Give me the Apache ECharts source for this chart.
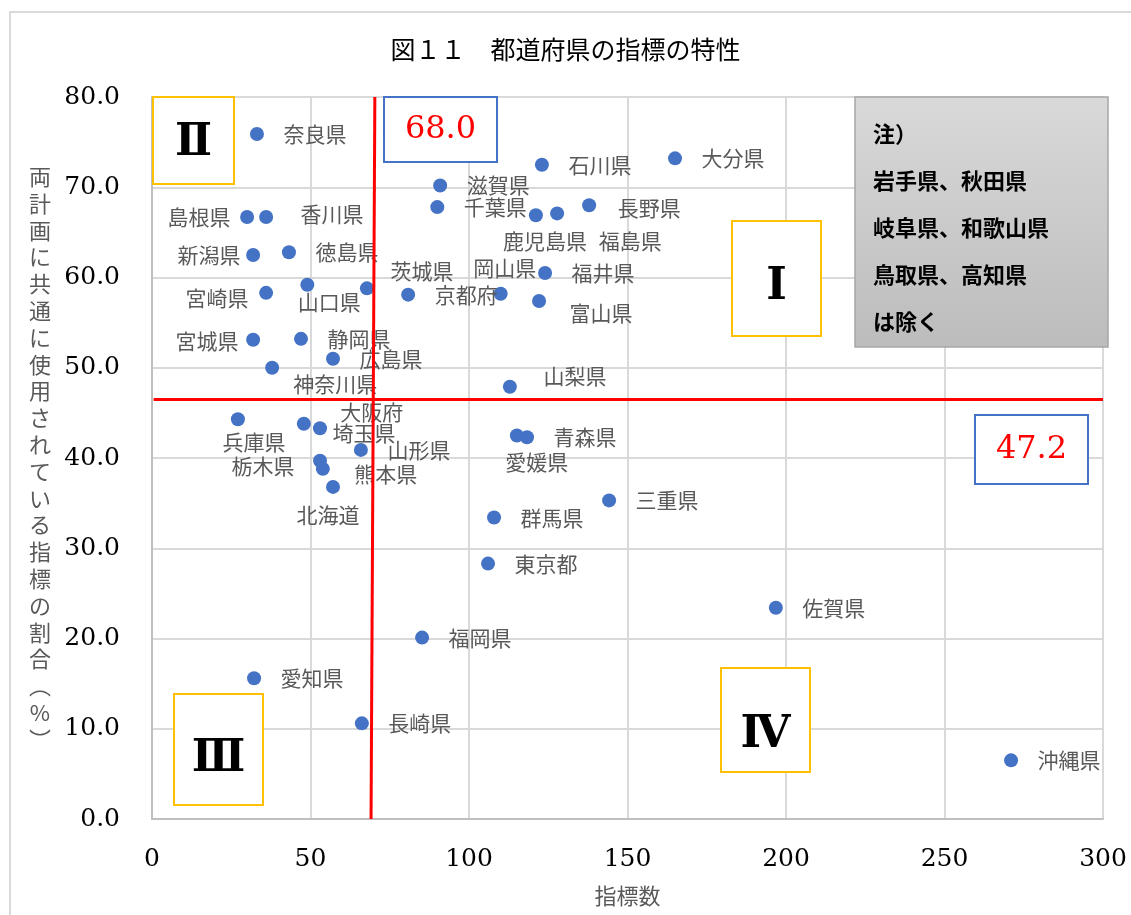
<!DOCTYPE html>
<html>
<head>
<meta charset="utf-8">
<script src="https://cdn.jsdelivr.net/npm/echarts@6/dist/echarts.min.js"></script>
<style>
  html, body { margin: 0; padding: 0; background: #fff; }
  #chart { width: 1131px; height: 915px; }
</style>
</head>
<body>
<div id="chart"></div>
<script>
// 都道府県名
const prefs = ['奈良県', '島根県', '香川県', '新潟県', '徳島県', '宮崎県', '山口県', '茨城県', '京都府', '宮城県',
  '静岡県', '広島県', '神奈川県', '滋賀県', '千葉県', '石川県', '大分県', '長野県', '鹿児島県', '福島県',
  '岡山県', '福井県', '富山県', '山梨県', '兵庫県', '大阪府', '埼玉県', '山形県', '栃木県', '熊本県',
  '北海道', '青森県', '愛媛県', '三重県', '群馬県', '東京都', '福岡県', '愛知県', '長崎県', '佐賀県', '沖縄県'];
// 指標数
const indicatorCounts = [33.1, 30.0, 36.0, 31.9, 43.2, 36.0, 49.0, 67.8, 80.8, 31.9,
  47.0, 57.1, 37.9, 90.9, 90.0, 123.0, 165.0, 137.9, 121.1, 127.8,
  110.0, 124.0, 122.1, 112.9, 27.1, 47.9, 53.0, 65.9, 53.0, 53.9,
  57.1, 118.3, 115.1, 144.2, 107.9, 106.0, 85.2, 32.2, 66.2, 196.8, 271.0];
// 両計画に共通に使用されている指標の割合（%）
const sharedRatio = [75.9, 66.7, 66.7, 62.5, 62.8, 58.3, 59.2, 58.8, 58.1, 53.1,
  53.2, 51.0, 50.0, 70.2, 67.8, 72.5, 73.2, 68.0, 66.9, 67.1,
  58.2, 60.5, 57.4, 47.9, 44.3, 43.8, 43.3, 40.9, 39.7, 38.8,
  36.8, 42.3, 42.5, 35.3, 33.4, 28.3, 20.1, 15.6, 10.6, 23.4, 6.5];

const xTicks = [0, 50, 100, 150, 200, 250, 300];
const yTicks = [0, 10, 20, 30, 40, 50, 60, 70, 80];

// 平均線（描かれた位置）と表示値
const avgLineX = [70.3, 69.1];
const avgLineY = 46.5;
const avgLabelX = '68.0';
const avgLabelY = '47.2';

// ラベルの位置調整（点からのずれ, px）
const labelShift = {
  '島根県': [-48, 0], '香川県': [66, -3], '新潟県': [-44, 0], '宮崎県': [-49, 5],
  '山口県': [22, 17], '茨城県': [55, -17], '宮城県': [-46, 1], '神奈川県': [63, 16],
  '長野県': [60, 3], '鹿児島県': [9, 26], '福島県': [73, 28], '岡山県': [4, -26],
  '富山県': [62, 12], '山梨県': [65, -11], '兵庫県': [16, 23], '大阪府': [68, -12],
  '埼玉県': [44, 5], '栃木県': [-57, 5], '熊本県': [63, 5], '北海道': [-5, 28],
  '愛媛県': [20, 27]
};

const cjk = '"Noto Sans CJK JP", sans-serif';
const serif = '"DejaVu Serif", serif';
const symbolSize = 14;

const points = prefs.map((name, i) => {
  const s = labelShift[name] || [58, 0];
  return {
    name: name,
    value: [indicatorCounts[i], sharedRatio[i]],
    label: { position: [symbolSize / 2 + s[0], symbolSize / 2 + s[1]] }
  };
});

const yTitle = '両計画に共通に使用されている指標の割合︵%︶'.split('').join('\n');

const chart = echarts.init(document.getElementById('chart'));

function box(x, y, w, h, color, text, textColor, font, dy) {
  return {
    type: 'group',
    x: x, y: y, z: 100,
    children: [
      { type: 'rect', z: 100, shape: { x: 0, y: 0, width: w, height: h },
        style: { fill: '#fff', stroke: color, lineWidth: 2 } },
      { type: 'text', z: 101, x: w / 2, y: h / 2 + (dy || 0),
        style: { text: text, fill: textColor, font: font, align: 'center', verticalAlign: 'middle' } }
    ]
  };
}

const romanFont = 'bold 44px ' + serif;
const valueFont = '32px ' + serif;

chart.setOption({
  animation: false,
  title: {
    text: '図１１　都道府県の指標の特性',
    left: 'center', top: 32,
    textStyle: { fontFamily: cjk, fontSize: 25, fontWeight: 'normal', color: '#000' }
  },
  grid: { left: 152, right: 28, top: 97, bottom: 96 },
  xAxis: {
    type: 'value', min: 0, max: 300, interval: 50,
    name: '指標数', nameLocation: 'middle', nameGap: 66,
    nameTextStyle: { fontFamily: cjk, fontSize: 22, color: '#595959' },
    axisLine: { show: true, lineStyle: { color: '#bfbfbf', width: 2 } },
    axisTick: { show: false },
    axisLabel: { fontFamily: serif, fontSize: 25, color: '#000', margin: 28,
      formatter: v => xTicks.includes(v) ? String(v) : '' },
    splitLine: { show: true, lineStyle: { color: '#d9d9d9', width: 2 } }
  },
  yAxis: {
    type: 'value', min: 0, max: 80, interval: 10,
    name: yTitle, nameLocation: 'middle', nameRotate: 0, nameGap: 112,
    nameTextStyle: { fontFamily: cjk, fontSize: 22, color: '#595959', lineHeight: 26.8, align: 'center', verticalAlign: 'middle' },
    axisLine: { show: true, lineStyle: { color: '#bfbfbf', width: 2 } },
    axisTick: { show: false },
    axisLabel: { fontFamily: serif, fontSize: 25, color: '#000', margin: 32,
      formatter: v => yTicks.includes(v) ? v.toFixed(1) : '' },
    splitLine: { show: true, lineStyle: { color: '#d9d9d9', width: 2 } }
  },
  series: [{
    type: 'scatter',
    symbolSize: symbolSize,
    itemStyle: { color: '#4472C4', opacity: 1 },
    data: points,
    label: {
      show: true, align: 'center', verticalAlign: 'middle',
      formatter: p => p.name,
      fontFamily: cjk, fontSize: 21, color: '#595959'
    },
    markLine: {
      silent: true, symbol: 'none', animation: false,
      label: { show: false },
      lineStyle: { color: '#ff0000', width: 3, type: 'solid' },
      data: [
        [{ coord: [avgLineX[0], 80] }, { coord: [avgLineX[1], 0] }],
        [{ coord: [0.5, avgLineY] }, { coord: [300, avgLineY] }]
      ]
    },
    z: 3
  }],
  graphic: [
    { type: 'rect', x: 10, y: 12, z: -10,
      shape: { x: 0, y: 0, width: 1140, height: 920 },
      style: { fill: 'none', stroke: '#d9d9d9', lineWidth: 2 } },
    box(153, 97, 81, 87, '#FFC000', 'Ⅱ', '#000', romanFont, 3),
    box(384, 97, 113, 65, '#4472C4', avgLabelX, '#ff0000', valueFont, 0),
    box(732, 221, 89, 115, '#FFC000', 'Ⅰ', '#000', romanFont, 9),
    box(975, 415, 113, 69, '#4472C4', avgLabelY, '#ff0000', valueFont, 0),
    box(174, 694, 89, 111, '#FFC000', 'Ⅲ', '#000', romanFont, 10),
    box(721, 668, 89, 104, '#FFC000', 'Ⅳ', '#000', romanFont, 16),
    {
      type: 'group', x: 855, y: 97, z: 100,
      children: [
        { type: 'rect', z: 100, shape: { x: 0, y: 0, width: 253, height: 250 },
          style: {
            stroke: '#a6a6a6', lineWidth: 1.5,
            fill: new echarts.graphic.LinearGradient(0, 0, 0, 1, [
              { offset: 0, color: '#d9d9d9' }, { offset: 1, color: '#bcbcbc' }
            ])
          } },
        { type: 'text', z: 101, x: 18, y: 13,
          style: { text: '注）\n岩手県、秋田県\n岐阜県、和歌山県\n鳥取県、高知県\nは除く',
            font: 'bold 22px ' + cjk, fill: '#000', lineHeight: 47, verticalAlign: 'top' } }
      ]
    }
  ]
});
</script>
</body>
</html>
